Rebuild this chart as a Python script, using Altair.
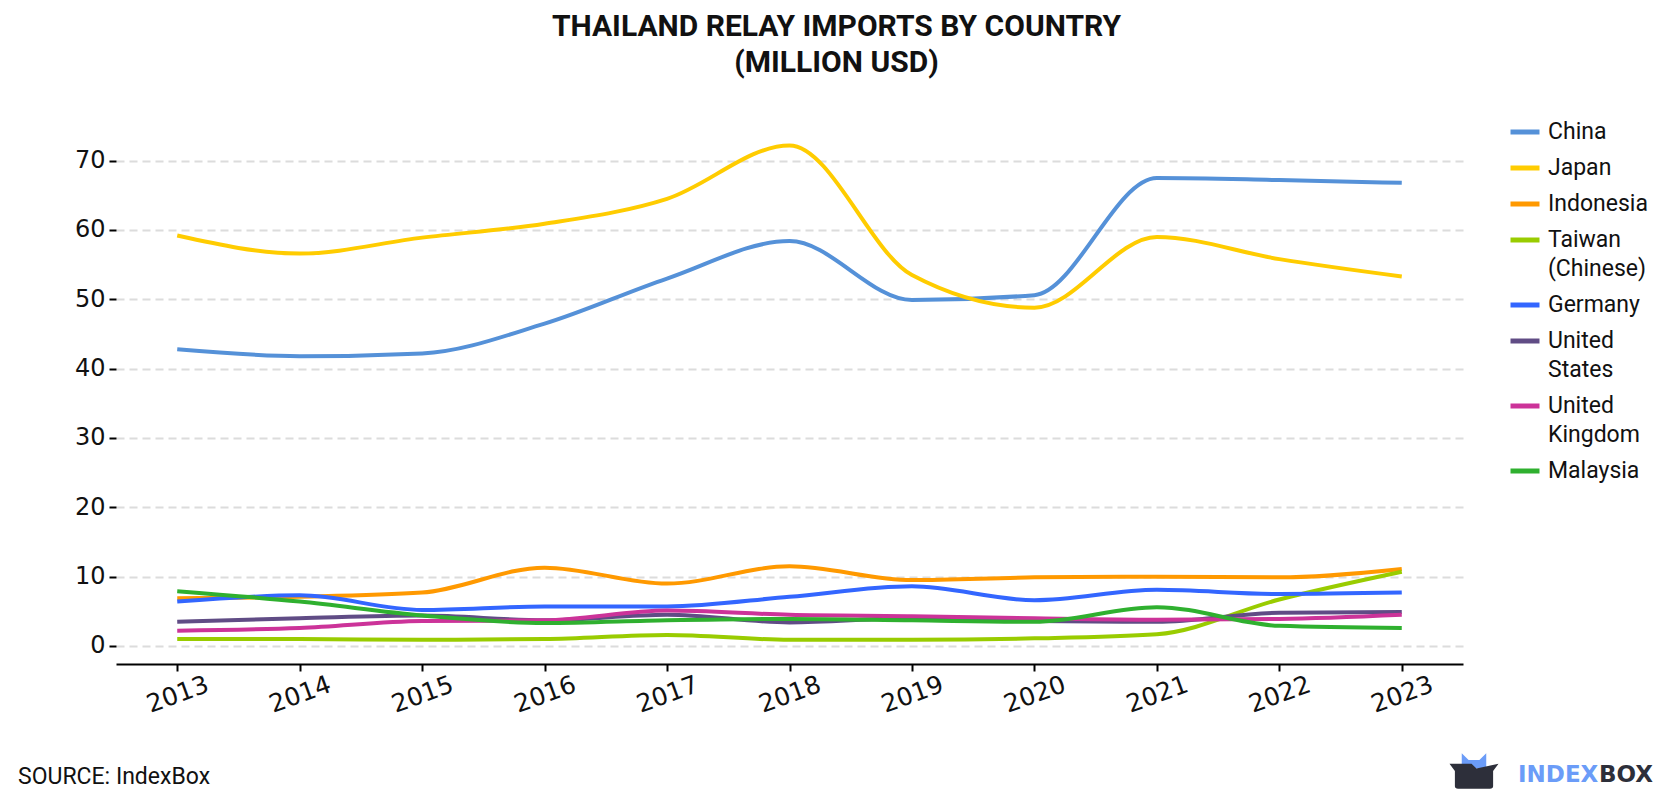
import altair as alt
import pandas as pd

years = list(range(2013, 2024))
countries = ["China", "Japan", "Indonesia", "Taiwan (Chinese)", "Germany",
             "United States", "United Kingdom", "Malaysia"]
colors = ["#5591d8", "#ffcc00", "#ff9900", "#99cc00", "#3366ff",
          "#604c85", "#cc3399", "#2fb02f"]

china = [42.8, 41.8, 42.2, 46.5, 53.0, 58.4, 49.9, 50.6, 67.5, 67.2, 66.8]
japan = [59.2, 56.6, 58.9, 60.9, 64.5, 72.2, 53.5, 48.8, 59.0, 55.8, 53.3]
indonesia = [6.9, 7.1, 7.7, 11.3, 9.0, 11.5, 9.5, 9.9, 10.0, 9.9, 11.1]
taiwan = [1.0, 1.0, 0.9, 1.0, 1.6, 0.9, 0.9, 1.1, 1.7, 6.7, 10.7]
germany = [6.4, 7.3, 5.2, 5.7, 5.7, 7.1, 8.6, 6.6, 8.1, 7.5, 7.7]
usa = [3.5, 4.0, 4.4, 3.7, 4.5, 3.4, 4.0, 3.6, 3.5, 4.8, 4.9]
uk = [2.2, 2.6, 3.6, 3.7, 5.1, 4.5, 4.3, 4.0, 3.8, 3.9, 4.5]
malaysia = [7.9, 6.4, 4.4, 3.3, 3.7, 3.9, 3.7, 3.5, 5.6, 2.9, 2.6]

series = [china, japan, indonesia, taiwan, germany, usa, uk, malaysia]

rows = []
for c, vals in zip(countries, series):
    for y, v in zip(years, vals):
        rows.append({"year": y, "country": c, "value": v})
df = pd.DataFrame(rows)

FONT = "Roboto"
AXFONT = "DejaVu Sans"
OX, OY = 116, 126  # plot origin in page pixels
W, H = 1347, 538

label_expr = ("datum.label == 'Taiwan (Chinese)' ? ['Taiwan', '(Chinese)'] : "
              "datum.label == 'United States' ? ['United', 'States'] : "
              "datum.label == 'United Kingdom' ? ['United', 'Kingdom'] : datum.label")

lines = alt.Chart(df).mark_line(strokeWidth=4, interpolate="monotone").encode(
    x=alt.X("year:Q",
            scale=alt.Scale(domain=[2012.5, 2023.5], nice=False, zero=False),
            axis=alt.Axis(values=years, format="d", title=None, grid=False,
                          labelAngle=-20, labelAlign="center", labelBaseline="middle",
                          labelPadding=23, tickSize=7, tickColor="#000",
                          tickWidth=2, domainColor="#000", domainWidth=2,
                          labelFontSize=25, labelColor="#111", labelFont=AXFONT)),
    y=alt.Y("value:Q",
            scale=alt.Scale(domain=[-2.6, 75], nice=False, zero=False),
            axis=alt.Axis(values=list(range(0, 80, 10)), title=None, domain=False,
                          tickSize=7, tickColor="#000", tickWidth=2,
                          labelPadding=4, labelFontSize=24, labelColor="#111",
                          labelFont=AXFONT, grid=True, gridColor="#dcdcdc",
                          gridDash=[8, 5], gridWidth=2)),
    color=alt.Color("country:N",
                    scale=alt.Scale(domain=countries, range=colors),
                    sort=countries,
                    legend=alt.Legend(title=None, orient="none",
                                      legendX=1392, legendY=-11,
                                      symbolType="stroke", symbolSize=841,
                                      symbolStrokeWidth=5, labelOffset=6,
                                      labelFontSize=23, labelFont=FONT,
                                      labelColor="#111", rowPadding=7,
                                      padding=0, labelExpr=label_expr)),
)

src = alt.Chart(pd.DataFrame({"t": ["SOURCE: IndexBox"]})).mark_text(
    font=FONT, fontSize=23, align="left", baseline="alphabetic", color="#111"
).encode(text="t:N", x=alt.value(18 - OX), y=alt.value(784 - OY))

logo_a = alt.Chart(pd.DataFrame({"t": ["INDEX"]})).mark_text(
    font="DejaVu Sans", fontSize=23, fontWeight="bold", align="left",
    baseline="alphabetic", color="#6b9cf8"
).encode(text="t:N", x=alt.value(1518 - OX), y=alt.value(782 - OY))

logo_b = alt.Chart(pd.DataFrame({"t": ["BOX"]})).mark_text(
    font="DejaVu Sans", fontSize=23, fontWeight="bold", align="left",
    baseline="alphabetic", color="#2d2f3a"
).encode(text="t:N", x=alt.value(1599 - OX), y=alt.value(782 - OY))

icon_crown = alt.Chart(pd.DataFrame({"k": [1]})).mark_point(
    shape="M-0.5,-0.1 L-0.5,-0.72 L-0.22,-0.45 L0.22,-0.45 L0.5,-0.72 L0.5,-0.1 Z",
    filled=True, color="#6b9cf8", opacity=1, size=2400
).encode(x=alt.value(1474 - OX), y=alt.value(771 - OY))

icon_box = alt.Chart(pd.DataFrame({"k": [1]})).mark_point(
    shape="M-1,-0.3 L-0.1,-0.3 L0.1,-0.1 L1,-0.3 L0.78,0.0 L0.78,0.62 Q0.78,0.72 0.65,0.72 L-0.65,0.72 Q-0.78,0.72 -0.78,0.62 L-0.78,0.0 Z",
    filled=True, color="#2d2f3a", opacity=1, size=2400
).encode(x=alt.value(1474 - OX), y=alt.value(771 - OY))

chart = alt.layer(lines, src, logo_a, logo_b, icon_crown, icon_box).properties(
    width=W, height=H,
    autosize=alt.AutoSizeParams(type="none"),
    padding={"left": OX, "top": OY, "right": 1680 - OX - W, "bottom": 800 - OY - H},
    title=alt.TitleParams(
        text=["THAILAND RELAY IMPORTS BY COUNTRY", "(MILLION USD)"],
        font=FONT, fontSize=30, fontWeight="bold", color="#111",
        anchor="middle", dx=47, offset=37, lineHeight=36),
).configure(
    background="white",
    style={"guide-label": {"lineHeight": 29}},
).configure_view(stroke=None)

chart.save("out.html", embed_options={"renderer": "svg", "actions": False})
